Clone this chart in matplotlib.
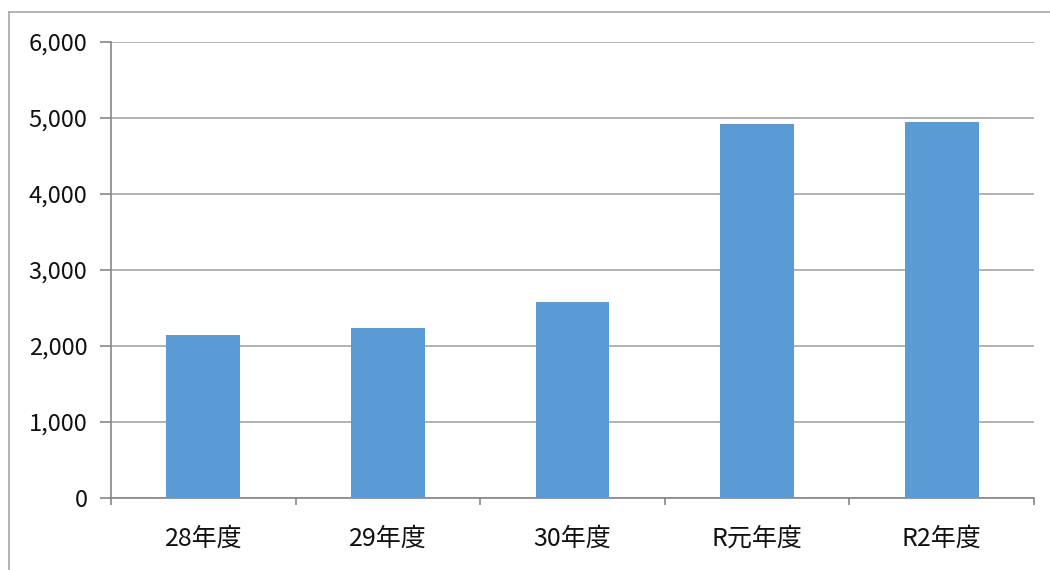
import matplotlib
matplotlib.use("Agg")
import matplotlib.pyplot as plt
from matplotlib.lines import Line2D

plt.rcParams['font.family'] = ['Noto Sans CJK JP', 'DejaVu Sans']

categories = ["28年度", "29年度", "30年度", "R元年度", "R2年度"]
values = [2145, 2241, 2579, 4921, 4943]
yticks = [0, 1000, 2000, 3000, 4000, 5000, 6000]
ytick_labels = ["0", "1,000", "2,000", "3,000", "4,000", "5,000", "6,000"]

W, H = 1050, 570
fig = plt.figure(figsize=(W / 100, H / 100), dpi=100)

# outer chart border (left and top visible)
fig.add_artist(Line2D([9 / W, 9 / W], [0, 1 - 12 / H], transform=fig.transFigure,
                      color="#a6a6a6", lw=1.2))
fig.add_artist(Line2D([9 / W, 1], [1 - 12 / H, 1 - 12 / H], transform=fig.transFigure,
                      color="#a6a6a6", lw=1.2))

left, right, top, bottom = 111, 1034, 42, 498
ax = fig.add_axes([left / W, 1 - bottom / H, (right - left) / W, (bottom - top) / H])

x = list(range(len(categories)))
ax.bar(x, values, width=0.4, color="#5B9BD5", zorder=3)

ax.set_xlim(-0.5, len(categories) - 0.5)
ax.set_ylim(0, 6000)
ax.set_yticks(yticks)
ax.set_yticklabels(ytick_labels, fontsize=17, color="#111111")
ax.set_xticks(x)
ax.set_xticklabels(categories, fontsize=18, color="#111111")
ax.tick_params(axis='x', length=0, pad=20)
ax.set_xticks([i - 0.5 for i in range(len(categories) + 1)], minor=True)
ax.tick_params(axis='x', which='minor', length=5, color="#868686", width=1.2, direction='out')
ax.tick_params(axis='y', length=8, color="#868686", width=1.2, pad=9)

ax.grid(axis='y', color="#a6a6a6", lw=1.2, zorder=0)
for s in ['top', 'right']:
    ax.spines[s].set_visible(False)
for s in ['left', 'bottom']:
    ax.spines[s].set_color("#868686")
    ax.spines[s].set_linewidth(1.2)

fig.savefig("out.png", dpi=100)
